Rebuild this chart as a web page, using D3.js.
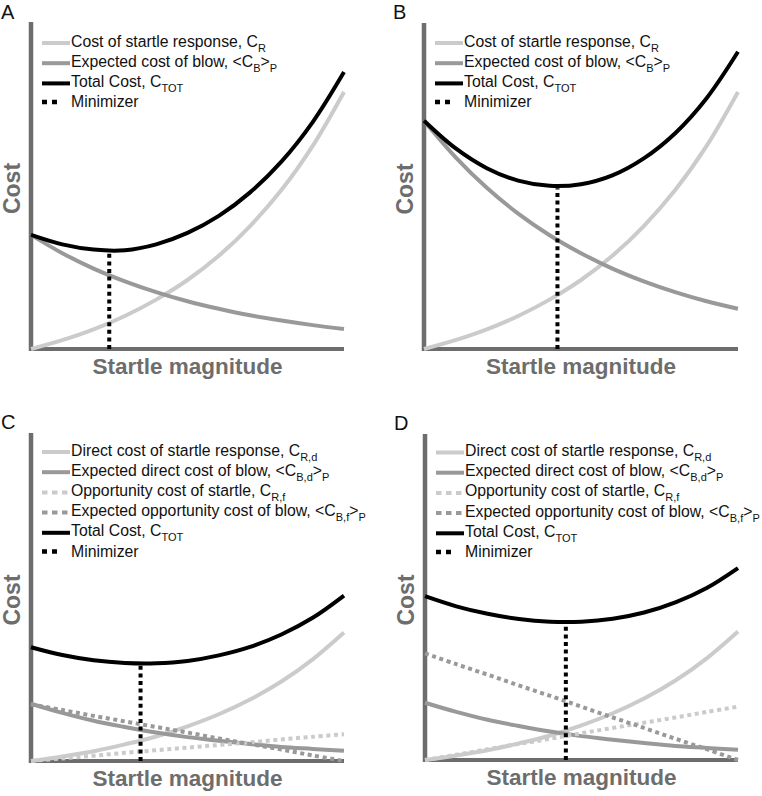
<!DOCTYPE html>
<html>
<head>
<meta charset="utf-8">
<script src="https://cdn.jsdelivr.net/npm/d3@7"></script>
<style>
  html, body { margin: 0; padding: 0; background: #ffffff; }
  svg { display: block; font-family: "Liberation Sans", Arial, Helvetica, sans-serif; }
</style>
</head>
<body>
<svg id="chart" width="762" height="796"></svg>
<script>
// ---------------- DATA ----------------
const magnitude = [0, 1, 2, 3, 4, 5, 6, 7, 8, 9, 10];

// Panel A
const aCostResponse = [0, 2.7, 6.0, 10.1, 15.1, 21.1, 28.5, 37.6, 48.6, 62.1, 78.6];
const aCostBlow     = [34.9, 29.3, 24.6, 20.7, 17.4, 14.6, 12.3, 10.3, 8.7, 7.3, 6.1];
const aTotal        = [34.9, 32.0, 30.4, 30.2, 32.0, 35.5, 40.7, 47.9, 57.3, 69.4, 84.7];

// Panel B
const bCostResponse = [0, 2.7, 6.0, 10.1, 15.1, 21.1, 28.5, 37.6, 48.6, 62.1, 78.6];
const bCostBlow     = [69.8, 58.7, 49.3, 41.4, 34.8, 29.3, 24.6, 20.7, 17.4, 14.6, 12.3];
const bTotal        = [69.8, 61.4, 55.3, 51.5, 49.9, 50.4, 53.1, 58.3, 66.0, 76.7, 90.9];

// Panel C
const cDirectResponse = [0, 1.4, 3.0, 5.1, 7.5, 10.6, 14.3, 18.8, 24.3, 31.1, 39.3];
const cDirectBlow     = [17.5, 14.7, 12.3, 10.4, 8.7, 7.3, 6.2, 5.2, 4.3, 3.7, 3.1];
const cOppResponse    = [0, 0.8, 1.6, 2.5, 3.3, 4.1, 4.9, 5.7, 6.6, 7.4, 8.2];
const cOppBlow        = [17.3, 15.6, 13.8, 12.1, 10.4, 8.7, 6.9, 5.2, 3.5, 1.7, 0];
const cTotal          = [34.8, 32.4, 30.8, 30.0, 29.9, 30.6, 32.3, 34.9, 38.7, 43.8, 50.6];

// Panel D
const dDirectResponse = [0, 1.4, 3.0, 5.1, 7.5, 10.6, 14.3, 18.8, 24.3, 31.1, 39.3];
const dDirectBlow     = [17.5, 14.7, 12.3, 10.4, 8.7, 7.3, 6.2, 5.2, 4.3, 3.7, 3.1];
const dOppResponse    = [0, 1.6, 3.3, 4.9, 6.5, 8.2, 9.8, 11.4, 13.0, 14.7, 16.3];
const dOppBlow        = [32.6, 29.3, 26.1, 22.8, 19.6, 16.3, 13.0, 9.8, 6.5, 3.3, 0];
const dTotal          = [50.1, 47.0, 44.7, 43.1, 42.3, 42.3, 43.2, 45.1, 48.2, 52.6, 58.7];

// Minimizer (magnitude, cost) per panel A, B, C, D
const minimizerMagnitude = [2.5, 4.25, 3.5, 4.5];
const minimizerCost      = [30.1, 49.8, 29.9, 42.2];

const panelLetters = ["A", "B", "C", "D"];
const xAxisTitle = "Startle magnitude";
const yAxisTitle = "Cost";

// legend labels: [text, isSubscript]
const legendAB = [
  [["Cost of startle response, C", 0], ["R", 1]],
  [["Expected cost of blow, <C", 0], ["B", 1], [">", 0], ["P", 1]],
  [["Total Cost, C", 0], ["TOT", 1]],
  [["Minimizer", 0]]
];
const legendCD = [
  [["Direct cost of startle response, C", 0], ["R,d", 1]],
  [["Expected direct cost of blow, <C", 0], ["B,d", 1], [">", 0], ["P", 1]],
  [["Opportunity cost of startle, C", 0], ["R,f", 1]],
  [["Expected opportunity cost of blow, <C", 0], ["B,f", 1], [">", 0], ["P", 1]],
  [["Total Cost, C", 0], ["TOT", 1]],
  [["Minimizer", 0]]
];

// ---------------- STYLE ----------------
const LIGHT = "#cbcbcb", MID = "#999999", BLACK = "#000000", AXIS = "#6d6d6d";
const solid = null, dotted = "4,3.6";
const styleLightSolid = { color: LIGHT, dash: solid };
const styleMidSolid   = { color: MID, dash: solid };
const styleLightDot   = { color: LIGHT, dash: dotted };
const styleMidDot     = { color: MID, dash: dotted };
const styleTotal      = { color: BLACK, dash: solid };

const layouts = [
  { x0: 31,  x1: 344, yTop: 22,  yBot: 349, lx: 1,   ly: 19,  legendY: 46.5 },
  { x0: 424, x1: 738, yTop: 23,  yBot: 349, lx: 393, ly: 19,  legendY: 46.5 },
  { x0: 31,  x1: 344, yTop: 433, yBot: 761, lx: 1,   ly: 429, legendY: 455.5 },
  { x0: 425, x1: 738, yTop: 434, yBot: 760, lx: 394, ly: 430, legendY: 456 }
];

const panels = [
  { series: [[aCostResponse, styleLightSolid], [aCostBlow, styleMidSolid], [aTotal, styleTotal]],
    legend: legendAB, legendStyles: [styleLightSolid, styleMidSolid, styleTotal, "min"] },
  { series: [[bCostResponse, styleLightSolid], [bCostBlow, styleMidSolid], [bTotal, styleTotal]],
    legend: legendAB, legendStyles: [styleLightSolid, styleMidSolid, styleTotal, "min"] },
  { series: [[cDirectResponse, styleLightSolid], [cDirectBlow, styleMidSolid], [cOppResponse, styleLightDot], [cOppBlow, styleMidDot], [cTotal, styleTotal]],
    legend: legendCD, legendStyles: [styleLightSolid, styleMidSolid, styleLightDot, styleMidDot, styleTotal, "min"] },
  { series: [[dDirectResponse, styleLightSolid], [dDirectBlow, styleMidSolid], [dOppResponse, styleLightDot], [dOppBlow, styleMidDot], [dTotal, styleTotal]],
    legend: legendCD, legendStyles: [styleLightSolid, styleMidSolid, styleLightDot, styleMidDot, styleTotal, "min"] }
];

const svg = d3.select("#chart");

panels.forEach((p, i) => {
  const L = layouts[i];
  const x = d3.scaleLinear().domain([0, 10]).range([L.x0, L.x1]);
  const y = d3.scaleLinear().domain([0, 100]).range([L.yBot, L.yBot - 327]);
  const g = svg.append("g");

  // panel letter
  g.append("text").attr("x", L.lx).attr("y", L.ly)
    .attr("font-size", 20).attr("fill", "#111").text(panelLetters[i]);

  // axes (no ticks)
  const xAxis = g.append("g").attr("transform", `translate(0,${L.yBot})`)
    .call(d3.axisBottom(x).tickValues([]).tickSizeOuter(0));
  xAxis.select(".domain").attr("stroke", AXIS).attr("stroke-width", 4.2)
    .attr("d", `M${L.x0 - 2},0H${L.x1}`);
  const yAxis = g.append("g").attr("transform", `translate(${L.x0},0)`)
    .call(d3.axisLeft(y).tickValues([]).tickSizeOuter(0));
  yAxis.select(".domain").attr("stroke", AXIS).attr("stroke-width", 4.5)
    .attr("d", `M0,${L.yTop}V${L.yBot + 2}`);

  // axis titles
  g.append("text").attr("x", (L.x0 + L.x1) / 2).attr("y", L.yBot + 25)
    .attr("text-anchor", "middle").attr("font-size", 22.5).attr("font-weight", "bold")
    .attr("fill", AXIS).text(xAxisTitle);
  g.append("text")
    .attr("transform", `translate(${L.x0 - 11},${(L.yTop + L.yBot) / 2 + 3}) rotate(-90)`)
    .attr("text-anchor", "middle").attr("font-size", 23).attr("font-weight", "bold")
    .attr("fill", AXIS).text(yAxisTitle);

  // curves
  const line = d3.line()
    .x((d, k) => x(magnitude[k]))
    .y(d => y(d))
    .curve(d3.curveCatmullRom.alpha(0.5));
  p.series.forEach(([vals, st]) => {
    g.append("path").attr("d", line(vals))
      .attr("fill", "none").attr("stroke", st.color).attr("stroke-width", 4)
      .attr("stroke-dasharray", st.dash);
  });

  // minimizer
  g.append("line")
    .attr("x1", x(minimizerMagnitude[i])).attr("x2", x(minimizerMagnitude[i]))
    .attr("y1", y(0)).attr("y2", y(minimizerCost[i]) + 2)
    .attr("stroke", BLACK).attr("stroke-width", 4).attr("stroke-dasharray", "4,3.6");

  // legend
  p.legend.forEach((parts, r) => {
    const by = L.legendY + r * 20.2;
    const st = p.legendStyles[r];
    if (st === "min") {
      g.append("line").attr("x1", L.x0 + 11).attr("x2", L.x0 + 39)
        .attr("y1", by - 5).attr("y2", by - 5)
        .attr("stroke", BLACK).attr("stroke-width", 4.5).attr("stroke-dasharray", "5,5,5,40");
    } else {
      g.append("line").attr("x1", L.x0 + 11).attr("x2", L.x0 + 39)
        .attr("y1", by - 3.5).attr("y2", by - 3.5)
        .attr("stroke", st.color).attr("stroke-width", 4)
        .attr("stroke-dasharray", st.dash ? "5.5,4.5" : null);
    }
    const t = g.append("text").attr("x", L.x0 + 40).attr("y", by)
      .attr("font-size", 15.8).attr("fill", "#111");
    let prevSub = 0;
    parts.forEach(([txt, sub]) => {
      const dy = sub && !prevSub ? 5 : (!sub && prevSub ? -5 : 0);
      t.append("tspan").attr("dy", dy).attr("font-size", sub ? 11 : 15.8).text(txt);
      prevSub = sub;
    });
  });
});
</script>
</body>
</html>
